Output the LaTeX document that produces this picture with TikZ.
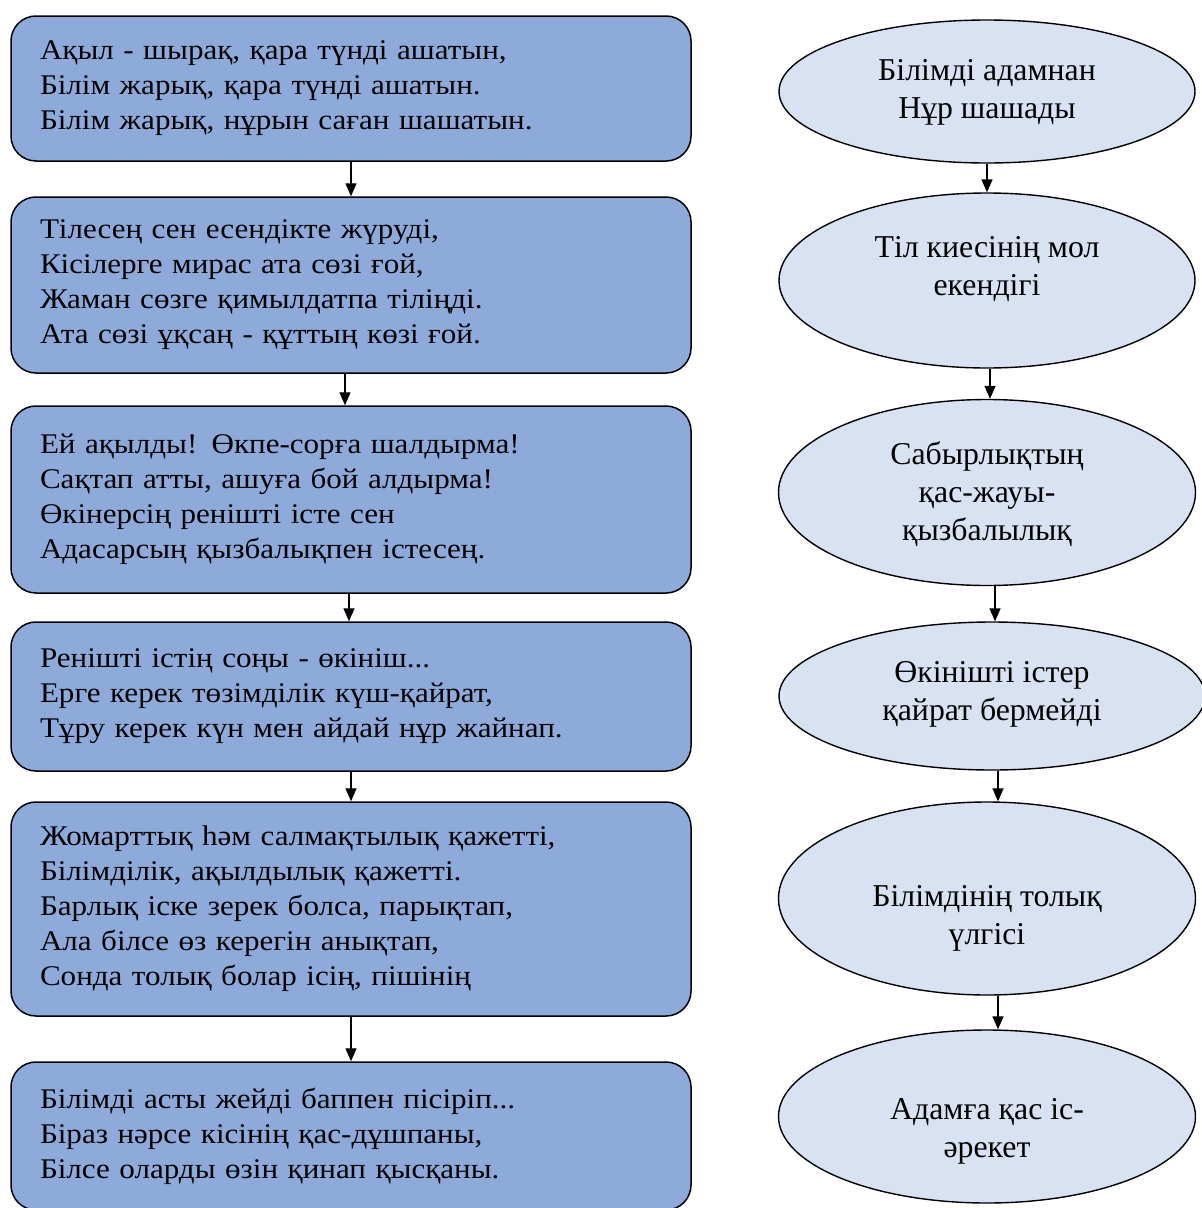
\documentclass[tikz,border=0pt]{standalone}
\usepackage{fontspec}
\setmainfont{Liberation Serif}
\newfontfamily\leftfont[FakeStretch=1.09]{Liberation Serif}
\usetikzlibrary{arrows.meta,shapes.geometric}
\definecolor{boxblue}{HTML}{8EAADB}
\definecolor{ellblue}{HTML}{D9E2F3}
\begin{document}
\begin{tikzpicture}[x=1pt,y=-1pt,
  lbox/.style={draw=black,line width=1.5pt,fill=boxblue,rounded corners=25pt,
    minimum width=680pt,text width=622pt,inner xsep=29pt,inner ysep=0pt,align=left,
    font=\leftfont\fontsize{28.5}{35}\selectfont},
  ell/.style={ellipse,draw=black,line width=1.4pt,fill=ellblue,inner sep=0pt},
  etext/.style={align=center,font=\fontsize{31.8}{38}\selectfont},
  arr/.style={line width=1.4pt,-{Triangle[width=11pt,length=13pt]}}]
\useasboundingbox (0,0) rectangle (1202,1208);
\begin{scope}
\clip (0,0) rectangle (1202,1208);
% left column
\node[lbox,minimum height=145pt] (b1) at (351,88.5)
  {Ақыл - шырақ, қара түнді ашатын,\\Білім жарық, қара түнді ашатын.\\Білім жарық, нұрын саған шашатын.};
\node[lbox,minimum height=176pt] (b2) at (351,285)
  {Тілесең сен есендікте жүруді,\\Кісілерге мирас ата сөзі ғой,\\Жаман сөзге қимылдатпа тіліңді.\\Ата сөзі ұқсаң - құттың көзі ғой.};
\node[lbox,minimum height=187pt] (b3) at (351,499.5)
  {Ей ақылды! Өкпе-сорға шалдырма!\\Сақтап атты, ашуға бой алдырма!\\Өкінерсің ренішті істе сен\\Адасарсың қызбалықпен істесең.};
\node[lbox,minimum height=149pt] (b4) at (351,696.5)
  {Ренішті істің соңы - өкініш...\\Ерге керек төзімділік күш-қайрат,\\Тұру керек күн мен айдай нұр жайнап.};
\node[lbox,minimum height=214pt] (b5) at (351,909)
  {Жомарттық һәм салмақтылық қажетті,\\Білімділік, ақылдылық қажетті.\\Барлық іске зерек болса, парықтап,\\Ала білсе өз керегін анықтап,\\Сонда толық болар ісің, пішінің};
\node[lbox,minimum height=148pt] (b6) at (351,1136)
  {Білімді асты жейді баппен пісіріп...\\Біраз нәрсе кісінің қас-дұшпаны,\\Білсе оларды өзін қинап қысқаны.};
\draw[arr] (b1.south) -- (b2.north);
\draw[arr] ([xshift=-6pt]b2.south) -- ([xshift=-6pt]b3.north);
\draw[arr] ([xshift=-2pt]b3.south) -- ([xshift=-2pt]b4.north);
\draw[arr] (b4.south) -- (b5.north);
\draw[arr] (b5.south) -- (b6.north);
% right column
\node[ell,minimum width=416pt,minimum height=143pt,
  label={[etext,yshift=-1pt]center:Білімді адамнан\\Нұр шашады}] (e1) at (987,91.5) {};
\node[ell,minimum width=416pt,minimum height=175pt,
  label={[etext,yshift=11pt]center:Тіл киесінің мол\\екендігі}] (e2) at (987,280.5) {};
\node[ell,minimum width=417pt,minimum height=186pt,
  label={[etext,yshift=-2pt]center:Сабырлықтың\\қас-жауы-\\қызбалылық}] (e3) at (987,492.5) {};
\node[ell,minimum width=426pt,minimum height=148pt,
  label={[etext,yshift=1.5pt]center:Өкінішті істер\\қайрат бермейді}] (e4) at (992,696) {};
\node[ell,minimum width=417pt,minimum height=193pt,
  label={[etext,yshift=-20pt]center:Білімдінің толық\\үлгісі}] (e5) at (987,898.5) {};
\node[ell,minimum width=417pt,minimum height=173pt,
  label={[etext,yshift=-15pt]center:Адамға қас іс-\\әрекет}] (e6) at (987,1116.5) {};
\draw[arr] (e1.south) -- (e2.north);
\draw[arr] ([xshift=3pt]e2.south) -- ([xshift=3pt]e3.north);
\draw[arr] ([xshift=8pt]e3.south) -- ([xshift=3pt]e4.north);
\draw[arr] ([xshift=6pt]e4.south) -- ([xshift=11pt]e5.north);
\draw[arr] ([xshift=11pt]e5.south) -- ([xshift=11pt]e6.north);
\end{scope}
\end{tikzpicture}
\end{document}
